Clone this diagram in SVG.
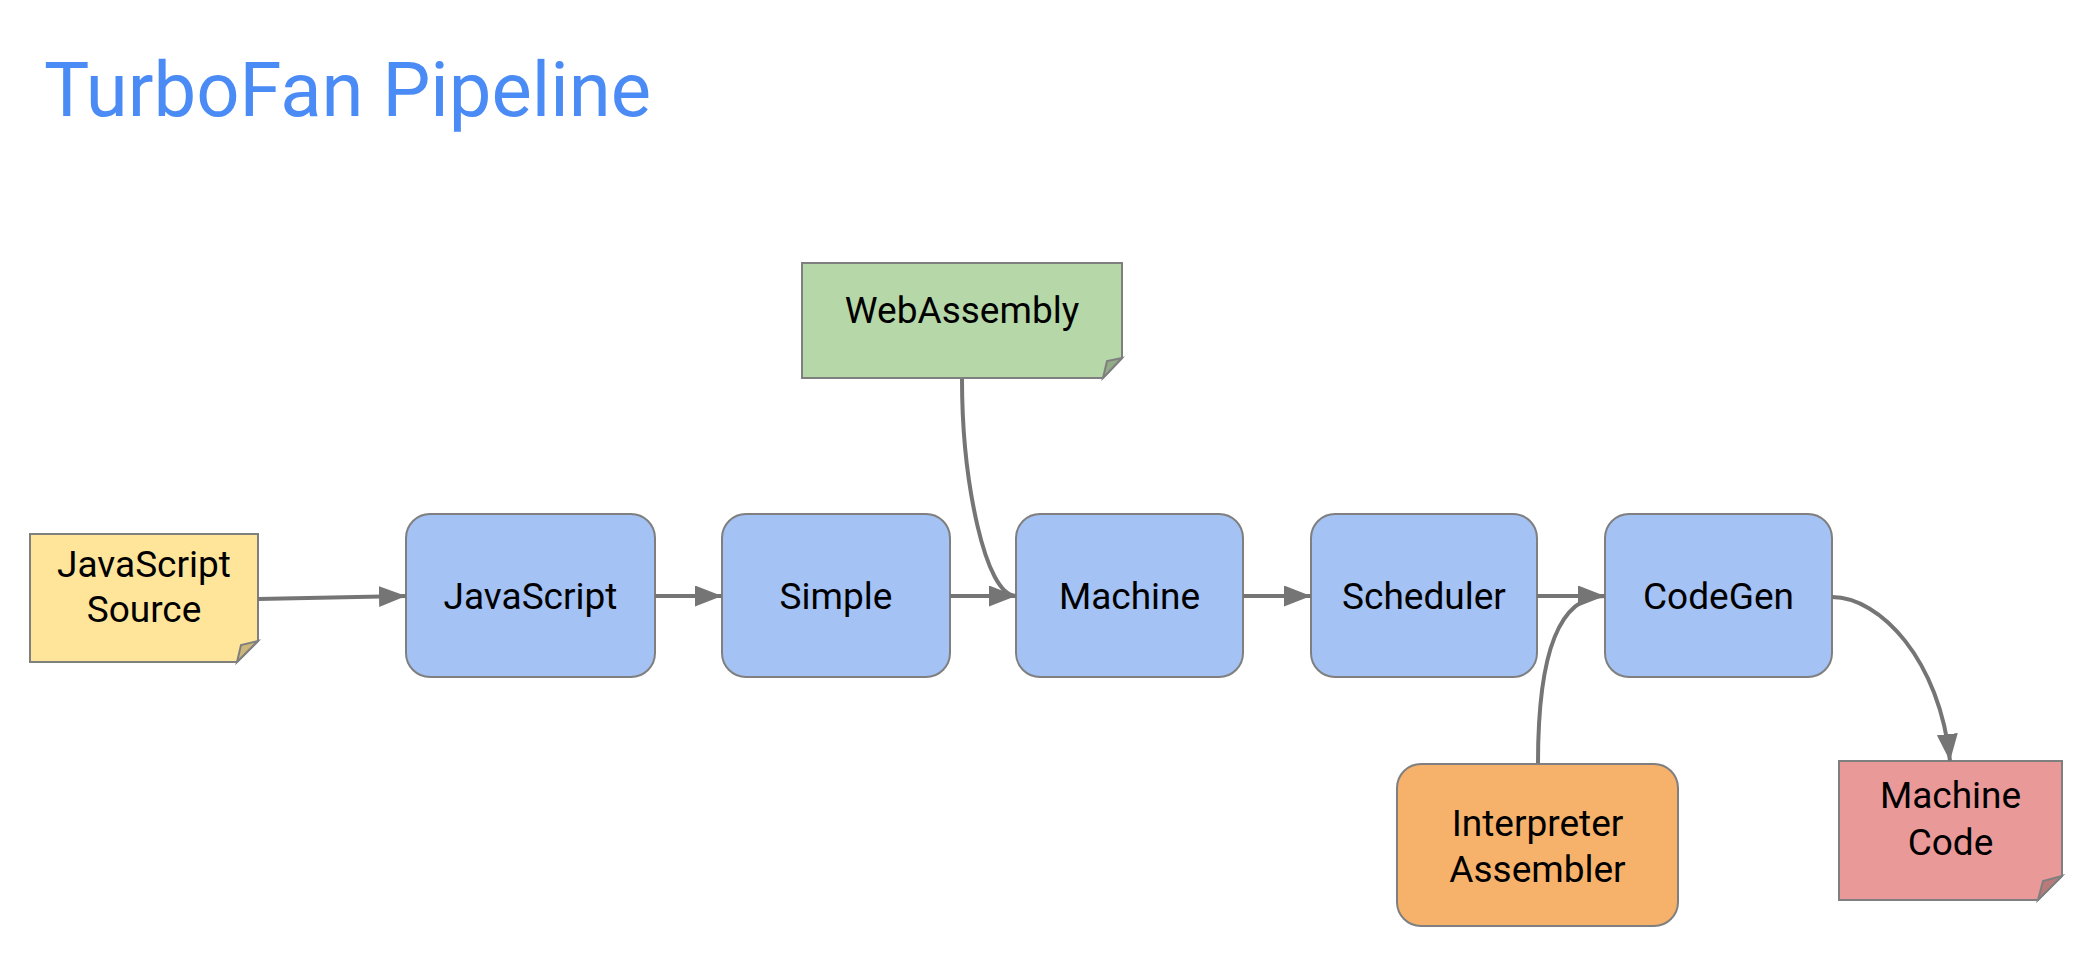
<svg xmlns="http://www.w3.org/2000/svg" width="2080" height="974" viewBox="0 0 2080 974">
<defs>
<style>
.box{fill:#a4c2f4;stroke:#7f7f7f;stroke-width:2}
.note{stroke:#7f7f7f;stroke-width:2;stroke-linejoin:miter}
.fold{stroke:#7f7f7f;stroke-width:2}
.lbl{font-family:Roboto,"Liberation Sans",sans-serif;font-size:37px;fill:#000;text-anchor:middle}
.edge{fill:none;stroke:#757575;stroke-width:4}
</style>
<marker id="arr" markerUnits="userSpaceOnUse" markerWidth="28" markerHeight="22" refX="27" refY="10.5" orient="auto">
<path d="M0,0 L27,10.5 L0,21 Z" fill="#757575"/>
</marker>
</defs>
<rect width="2080" height="974" fill="#ffffff"/>
<text x="44" y="116" font-family="Roboto,'Liberation Sans',sans-serif" font-size="76" fill="#4b8bf5">TurboFan Pipeline</text>

<g id="js-source">
<path class="note" fill="#ffe599" d="M30,534 H258 V641 L237,662 H30 Z"/>
<path class="fold" fill="#ccb77a" d="M258,641 L241,645 L237,662 Z"/>
<text class="lbl" x="144" y="577">JavaScript</text>
<text class="lbl" x="144" y="622">Source</text>
</g>
<g id="webassembly">
<path class="note" fill="#b6d7a8" d="M802,263 H1122 V358 L1103,378 H802 Z"/>
<path class="fold" fill="#92ac86" d="M1122,358 L1107,361 L1103,378 Z"/>
<text class="lbl" x="962" y="323">WebAssembly</text>
</g>
<g id="javascript">
<rect class="box" x="406" y="514" width="249" height="163" rx="24"/>
<text class="lbl" x="530.5" y="609">JavaScript</text>
</g>
<g id="simple">
<rect class="box" x="722" y="514" width="228" height="163" rx="24"/>
<text class="lbl" x="836" y="609">Simple</text>
</g>
<g id="machine">
<rect class="box" x="1016" y="514" width="227" height="163" rx="24"/>
<text class="lbl" x="1129.5" y="609">Machine</text>
</g>
<g id="scheduler">
<rect class="box" x="1311" y="514" width="226" height="163" rx="24"/>
<text class="lbl" x="1424" y="609">Scheduler</text>
</g>
<g id="codegen">
<rect class="box" x="1605" y="514" width="227" height="163" rx="24"/>
<text class="lbl" x="1718.5" y="609">CodeGen</text>
</g>
<g id="interpreter-assembler">
<rect x="1397" y="764" width="281" height="162" rx="24" fill="#f6b26b" stroke="#7f7f7f" stroke-width="2"/>
<text class="lbl" x="1537.5" y="836">Interpreter</text>
<text class="lbl" x="1537.5" y="882">Assembler</text>
</g>
<g id="machine-code">
<path class="note" fill="#ea9999" d="M1839,761 H2062 V876 L2038,900 H1839 Z"/>
<path class="fold" fill="#bb7a7a" d="M2062,876 L2043,881 L2038,900 Z"/>
<text class="lbl" x="1950.5" y="808">Machine</text>
<text class="lbl" x="1950.5" y="855">Code</text>
</g>

<g id="connectors">
<path class="edge" d="M258,599 L406,596" marker-end="url(#arr)"/>
<path class="edge" d="M655,596 L722,596" marker-end="url(#arr)"/>
<path class="edge" d="M950,596 L1016,596" marker-end="url(#arr)"/>
<path class="edge" d="M1243,596 L1311,596" marker-end="url(#arr)"/>
<path class="edge" d="M1537,596 L1605,596" marker-end="url(#arr)"/>
<path class="edge" d="M962,379 C962,480 985,596 1016,596"/>
<path class="edge" d="M1538,763 C1538,650 1560,596 1605,596"/>
<path class="edge" d="M1832,597 C1880,597 1940,660 1950,761" marker-end="url(#arr)"/>
</g>
</svg>
